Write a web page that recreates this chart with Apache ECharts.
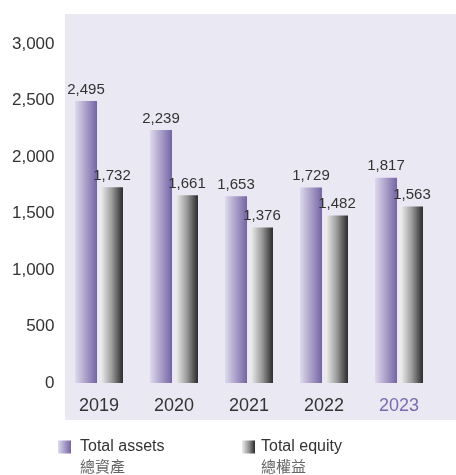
<!DOCTYPE html>
<html><head><meta charset="utf-8">
<script src="https://cdn.jsdelivr.net/npm/echarts@6/dist/echarts.min.js"></script>
<style>html,body{margin:0;padding:0;background:#fff}#c{width:456px;height:475px}</style>
</head><body><div id="c"></div>
<script>
const years = ['2019','2020','2021','2022','2023'];
const totalAssets = [2495, 2239, 1653, 1729, 1817];
const totalEquity = [1732, 1661, 1376, 1482, 1563];
const yTicks = [0, 500, 1000, 1500, 2000, 2500, 3000];

const font = 'Liberation Sans, Arial, sans-serif';
const gradA = new echarts.graphic.LinearGradient(0,0,1,0,[{offset:0,color:'#DEDAEC'},{offset:1,color:'#7464A4'}]);
const gradE = new echarts.graphic.LinearGradient(0,0,1,0,[{offset:0,color:'#EDEDED'},{offset:0.5,color:'#9A9A9A'},{offset:1,color:'#2A2A2A'}]);

const chart = echarts.init(document.getElementById('c'));
chart.setOption({
  animation:false,
  textStyle:{fontFamily:font},
  graphic:[
    {type:'rect', shape:{x:65,y:14,width:391,height:406}, style:{fill:'#EAE8F2'}, z:-10, silent:true},
    {type:'text', left:80, top:459, style:{text:'總資產', fill:'#666', font:'15px "Noto Sans CJK TC", sans-serif'}},
    {type:'text', left:261, top:459, style:{text:'總權益', fill:'#666', font:'15px "Noto Sans CJK TC", sans-serif'}}
  ],
  legend:[
    {left:58, top:439, padding:0, icon:'rect', itemWidth:13, itemHeight:13, itemGap:0, data:['Total assets'], textStyle:{fontSize:16,color:'#333',fontFamily:font,padding:[0,0,0,4]}},
    {left:242, top:439, padding:0, icon:'rect', itemWidth:13, itemHeight:13, itemGap:0, data:['Total equity'], textStyle:{fontSize:16,color:'#333',fontFamily:font,padding:[0,0,0,1]}}
  ],
  grid:{left:61.5, width:375, top:44, bottom:92, containLabel:false},
  xAxis:{type:'category', data:years, axisLine:{show:false}, axisTick:{show:false},
    axisLabel:{fontSize:18, margin:14, fontFamily:font, color:(v)=> v==='2023' ? '#7B6BAE' : '#333'}},
  yAxis:{type:'value', min:0, max:3000, interval:500, splitLine:{show:false},
    axisLabel:{fontSize:17, margin:7, color:'#333', fontFamily:font,
      formatter:(v)=> yTicks.includes(v) ? v.toLocaleString('en-US') : ''}},
  series:[
    {name:'Total assets', type:'bar', data:totalAssets, barWidth:22, barGap:'18%',
      itemStyle:{color:gradA},
      label:{show:true, position:'top', distance:4, fontSize:15, color:'#333', fontFamily:font,
        formatter:(p)=>p.value.toLocaleString('en-US')}},
    {name:'Total equity', type:'bar', data:totalEquity, barWidth:22,
      itemStyle:{color:gradE},
      label:{show:true, position:'top', distance:4, fontSize:15, color:'#333', fontFamily:font,
        formatter:(p)=>p.value.toLocaleString('en-US')}}
  ]
});
</script></body></html>
